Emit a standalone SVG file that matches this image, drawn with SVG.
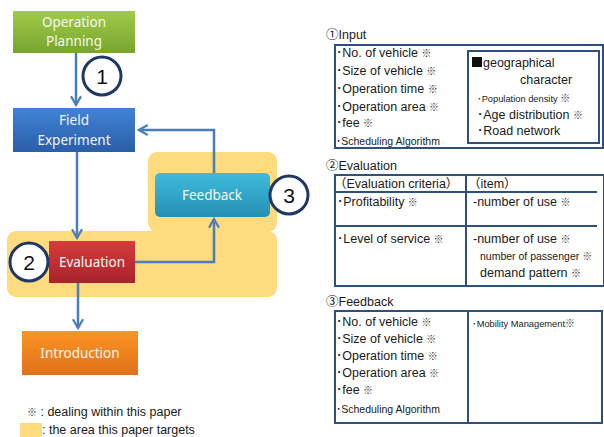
<svg xmlns="http://www.w3.org/2000/svg" width="604" height="437" viewBox="0 0 604 437">
  <defs>
    <linearGradient id="gGreen" x1="0" y1="0" x2="0" y2="1">
      <stop offset="0" stop-color="#9fcb48"/>
      <stop offset="1" stop-color="#78a52f"/>
    </linearGradient>
    <linearGradient id="gBlue" x1="0" y1="0" x2="0" y2="1">
      <stop offset="0" stop-color="#4182d6"/>
      <stop offset="1" stop-color="#2a5ea8"/>
    </linearGradient>
    <linearGradient id="gCyan" x1="0" y1="0" x2="0" y2="1">
      <stop offset="0" stop-color="#3fbbdd"/>
      <stop offset="1" stop-color="#2590b3"/>
    </linearGradient>
    <linearGradient id="gRed" x1="0" y1="0" x2="0" y2="1">
      <stop offset="0" stop-color="#d63c3c"/>
      <stop offset="1" stop-color="#a8232a"/>
    </linearGradient>
    <linearGradient id="gOrange" x1="0" y1="0" x2="0" y2="1">
      <stop offset="0" stop-color="#fb9424"/>
      <stop offset="1" stop-color="#e0711a"/>
    </linearGradient>
    <marker id="arrow" viewBox="0 0 10 10" refX="8" refY="5" markerWidth="5" markerHeight="5" orient="auto" markerUnits="strokeWidth">
      <path d="M1,1 L8,5 L1,9" fill="none" stroke="#4a7ebb" stroke-width="1.8"/>
    </marker>
  </defs>
  <style>
    .lbl { font-family: "Noto Sans", "Open Sans", sans-serif; font-size: 13.5px; fill: #f6f6f0; text-anchor: middle; }
    .num { font-family: "Liberation Sans", Arial, sans-serif; font-size: 21px; fill: #111; text-anchor: middle; }
    .circ { fill: #ffffff; stroke: #1f3864; stroke-width: 3; }
    .conn { fill: none; stroke: #4a7ebb; stroke-width: 2.5; }
    .hl { fill: #fddb7e; }
    .t { font-family: "Liberation Sans", Arial, "Noto Sans CJK JP", sans-serif; font-size: 12.5px; fill: #1a1a1a; }
    .ts { font-family: "Liberation Sans", Arial, "Noto Sans CJK JP", sans-serif; font-size: 10.5px; fill: #1a1a1a; }
    .tx { font-family: "Liberation Sans", Arial, "Noto Sans CJK JP", sans-serif; font-size: 9.3px; fill: #1a1a1a; }
    .ast { font-family: "Noto Sans CJK JP", sans-serif; font-size: 10px; fill: #333; }
    .frame { fill: none; stroke: #2f4f7f; stroke-width: 2; }
  </style>

  <!-- target-area highlight -->
  <g id="highlight">
    <rect class="hl" x="148" y="152" width="129" height="80" rx="9"/>
    <rect class="hl" x="7" y="231" width="270" height="66" rx="9"/>
  </g>

  <!-- connectors -->
  <g id="connectors">
    <path class="conn" d="M76,53 V105" marker-end="url(#arrow)"/>
    <path class="conn" d="M77,152 V238" marker-end="url(#arrow)"/>
    <path class="conn" d="M214,173 V130 H139" marker-end="url(#arrow)"/>
    <path class="conn" d="M135,262 H214 V219" marker-end="url(#arrow)"/>
    <path class="conn" d="M78,283 V328" marker-end="url(#arrow)"/>
  </g>

  <g id="operation-planning">
    <rect x="13" y="11" width="122" height="42" fill="url(#gGreen)"/>
    <text class="lbl" x="74" y="27">Operation</text>
    <text class="lbl" x="74" y="46">Planning</text>
  </g>

  <g id="field-experiment">
    <rect x="13" y="108" width="122" height="44" fill="url(#gBlue)"/>
    <text class="lbl" x="74" y="125">Field</text>
    <text class="lbl" x="74" y="145">Experiment</text>
  </g>

  <g id="feedback">
    <rect x="155" y="173" width="115" height="44" rx="5" fill="url(#gCyan)"/>
    <text class="lbl" x="212" y="200">Feedback</text>
  </g>

  <g id="evaluation">
    <rect x="49" y="241" width="86" height="42" fill="url(#gRed)"/>
    <text class="lbl" x="92" y="267">Evaluation</text>
  </g>

  <g id="introduction">
    <rect x="22" y="331" width="116" height="44" fill="url(#gOrange)"/>
    <text class="lbl" x="80" y="358">Introduction</text>
  </g>

  <g id="step-1">
    <circle class="circ" cx="102" cy="76" r="19"/>
    <text class="num" x="102" y="84">1</text>
  </g>
  <g id="step-2">
    <circle class="circ" cx="29" cy="262" r="19"/>
    <text class="num" x="29" y="270">2</text>
  </g>
  <g id="step-3">
    <circle class="circ" cx="289" cy="195" r="19"/>
    <text class="num" x="289" y="203">3</text>
  </g>

  <!-- legend -->
  <g id="legend">
    <text class="t" x="27" y="416"><tspan class="ast">※</tspan> : dealing within this paper</text>
    <rect class="hl" x="20" y="423" width="22" height="14"/>
    <text class="t" x="42" y="434">: the area this paper targets</text>
  </g>

  <!-- ① Input -->
  <g id="input-panel">
    <text class="t" x="326" y="39">①Input</text>
    <rect class="frame" x="335" y="45" width="268" height="103"/>
    <text class="t" x="336" y="57">･No. of vehicle <tspan class="ast">※</tspan></text>
    <text class="t" x="336" y="75">･Size of vehicle <tspan class="ast">※</tspan></text>
    <text class="t" x="336" y="93">･Operation time <tspan class="ast">※</tspan></text>
    <text class="t" x="336" y="111">･Operation area <tspan class="ast">※</tspan></text>
    <text class="t" x="336" y="127">･fee <tspan class="ast">※</tspan></text>
    <text class="ts" x="336" y="145">･Scheduling Algorithm</text>
    <rect class="frame" x="468" y="51" width="131" height="92"/>
    <rect x="472" y="57" width="10" height="10" fill="#111"/>
    <text class="t" x="483" y="67">geographical</text>
    <text class="t" x="520" y="84">character</text>
    <text class="tx" x="477" y="102">･Population density <tspan class="ast">※</tspan></text>
    <text class="t" x="477" y="119">･Age distribution <tspan class="ast">※</tspan></text>
    <text class="t" x="477" y="135">･Road network</text>
  </g>

  <!-- ② Evaluation -->
  <g id="evaluation-panel">
    <text class="t" x="326" y="170">②Evaluation</text>
    <rect class="frame" x="335" y="175" width="269" height="111"/>
    <line class="frame" x1="466" y1="175" x2="466" y2="286"/>
    <line class="frame" x1="335" y1="192" x2="597" y2="192"/>
    <line class="frame" x1="335" y1="226" x2="597" y2="226"/>
    <text class="t" x="334" y="188">（Evaluation criteria）</text>
    <text class="t" x="468" y="188">（item）</text>
    <text class="t" x="337" y="206">･Profitability <tspan class="ast">※</tspan></text>
    <text class="t" x="473" y="206">-number of use <tspan class="ast">※</tspan></text>
    <text class="t" x="337" y="243">･Level of service <tspan class="ast">※</tspan></text>
    <text class="t" x="473" y="243">-number of use <tspan class="ast">※</tspan></text>
    <text class="ts" x="480" y="260">number of passenger <tspan class="ast">※</tspan></text>
    <text class="t" x="480" y="277">demand pattern <tspan class="ast">※</tspan></text>
  </g>

  <!-- ③ Feedback -->
  <g id="feedback-panel">
    <text class="t" x="326" y="306">③Feedback</text>
    <rect class="frame" x="335" y="311" width="267" height="112"/>
    <line class="frame" x1="468" y1="311" x2="468" y2="423"/>
    <text class="t" x="336" y="326">･No. of vehicle <tspan class="ast">※</tspan></text>
    <text class="t" x="336" y="343">･Size of vehicle <tspan class="ast">※</tspan></text>
    <text class="t" x="336" y="360">･Operation time <tspan class="ast">※</tspan></text>
    <text class="t" x="336" y="377">･Operation area <tspan class="ast">※</tspan></text>
    <text class="t" x="336" y="394">･fee <tspan class="ast">※</tspan></text>
    <text class="ts" x="336" y="413">･Scheduling Algorithm</text>
    <text class="tx" x="472" y="327">･Mobility Management<tspan class="ast">※</tspan></text>
  </g>
</svg>
